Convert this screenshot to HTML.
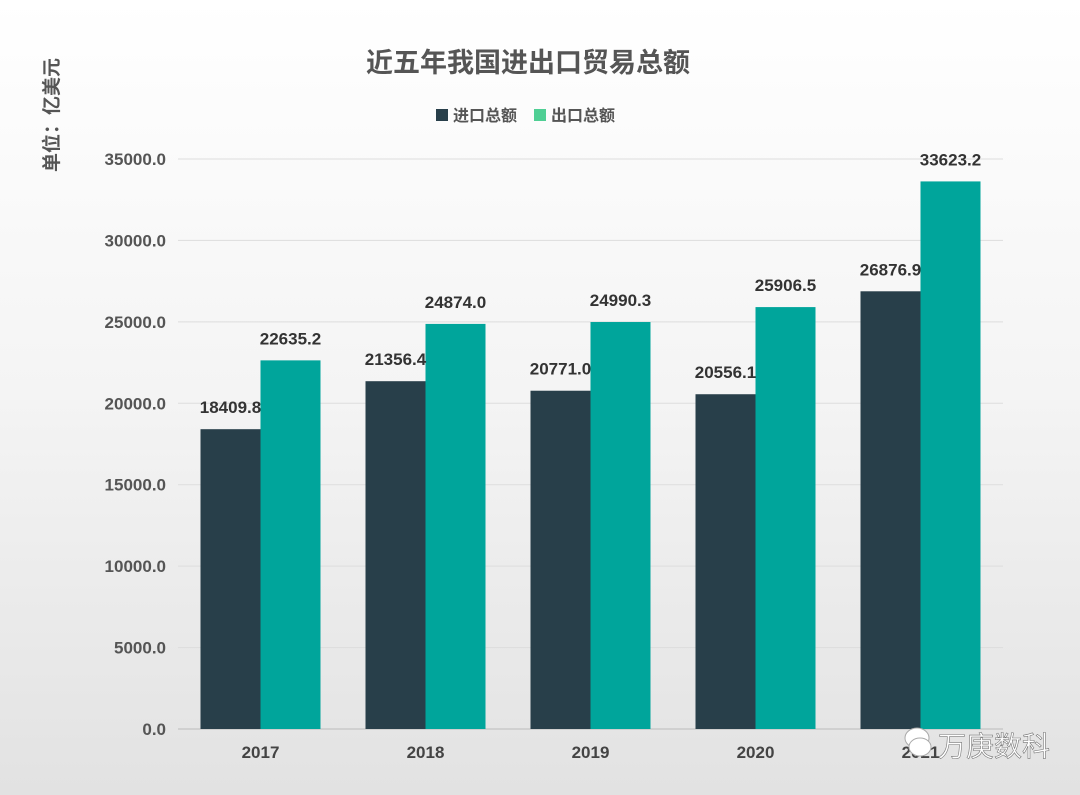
<!DOCTYPE html>
<html><head><meta charset="utf-8">
<style>
html,body{margin:0;padding:0;}
body{width:1080px;height:795px;overflow:hidden;background:linear-gradient(#ffffff 0%,#f4f4f4 50%,#e2e2e2 100%);font-family:"Liberation Sans","Noto Sans CJK SC",sans-serif;}
svg{display:block}
</style></head>
<body>
<svg id="chart" width="1080" height="795" xmlns="http://www.w3.org/2000/svg" font-family="Liberation Sans, Noto Sans CJK SC, sans-serif">
<text x="528" y="72" text-anchor="middle" font-size="27" font-weight="bold" fill="#555">近五年我国进出口贸易总额</text>
<text transform="translate(58,115) rotate(-90)" text-anchor="middle" font-size="19" font-weight="bold" fill="#555">单位：亿美元</text>
<g>
<rect x="436" y="109" width="12" height="12" fill="#283f4a"/>
<text x="453" y="121" font-size="16" font-weight="bold" fill="#555">进口总额</text>
<rect x="534" y="109" width="12" height="12" fill="#4fcf94"/>
<text x="551" y="121" font-size="16" font-weight="bold" fill="#555">出口总额</text>
</g>
<g id="grid"></g><g id="bars"></g><g id="labels"></g>
<g>
<ellipse cx="917" cy="738" rx="12" ry="10" fill="#fff" stroke="#aaa"/>
<ellipse cx="920" cy="747" rx="11" ry="9" fill="#fff" stroke="#aaa"/>
<text x="938" y="756" font-size="28" fill="#fff" stroke="#777" stroke-width="0.6">万庚数科</text>
</g>
</svg>
<script>
const categories=["2017","2018","2019","2020","2021"];
const importValues=[18409.8,21356.4,20771.0,20556.1,26876.9];
const exportValues=[22635.2,24874.0,24990.3,25906.5,33623.2];
const yTicks=[0,5000,10000,15000,20000,25000,30000,35000];
const NS="http://www.w3.org/2000/svg";
const x0=178,x1=1003,y0=729,ymax=35000,ytop=159;
const y=v=>y0-(v/ymax)*(y0-ytop);
const band=(x1-x0)/categories.length;
const cx=i=>x0+band*(i+0.5);
function mk(tag,attrs,parent,txt){const e=document.createElementNS(NS,tag);for(const k in attrs)e.setAttribute(k,attrs[k]);if(txt!==undefined)e.textContent=txt;document.getElementById(parent).appendChild(e);return e;}
yTicks.forEach(t=>{
  const l=mk('line',{x1:x0,x2:x1,y1:y(t),y2:y(t),stroke:t===0?'#bbb':'#ddd','stroke-width':1},'grid');
  
  
  const tx=mk('text',{x:166,y:y(t)+6,'text-anchor':'end','font-size':17,'font-weight':'bold',fill:'#555'},'grid',t.toFixed(1));
  
  
});
const bw=60;
categories.forEach((c,i)=>{
  const c0=cx(i);
  const b1=mk('rect',{x:c0-bw,y:y(importValues[i]),width:bw,height:y0-y(importValues[i]),fill:'#283f4a'},'bars');
  
  
  const b2=mk('rect',{x:c0,y:y(exportValues[i]),width:bw,height:y0-y(exportValues[i]),fill:'#00a59b'},'bars');
  
  
  const l1=mk('text',{x:c0-30,y:y(importValues[i])-16,'text-anchor':'middle','font-size':17,'font-weight':'bold',fill:'#333'},'labels',importValues[i].toFixed(1));
  
  
  const l2=mk('text',{x:c0+30,y:y(exportValues[i])-16,'text-anchor':'middle','font-size':17,'font-weight':'bold',fill:'#333'},'labels',exportValues[i].toFixed(1));
  
  
  const xl=mk('text',{x:c0,y:758,'text-anchor':'middle','font-size':17,'font-weight':'bold',fill:'#444'},'labels',c);
  
  
});
</script>
</body></html>
